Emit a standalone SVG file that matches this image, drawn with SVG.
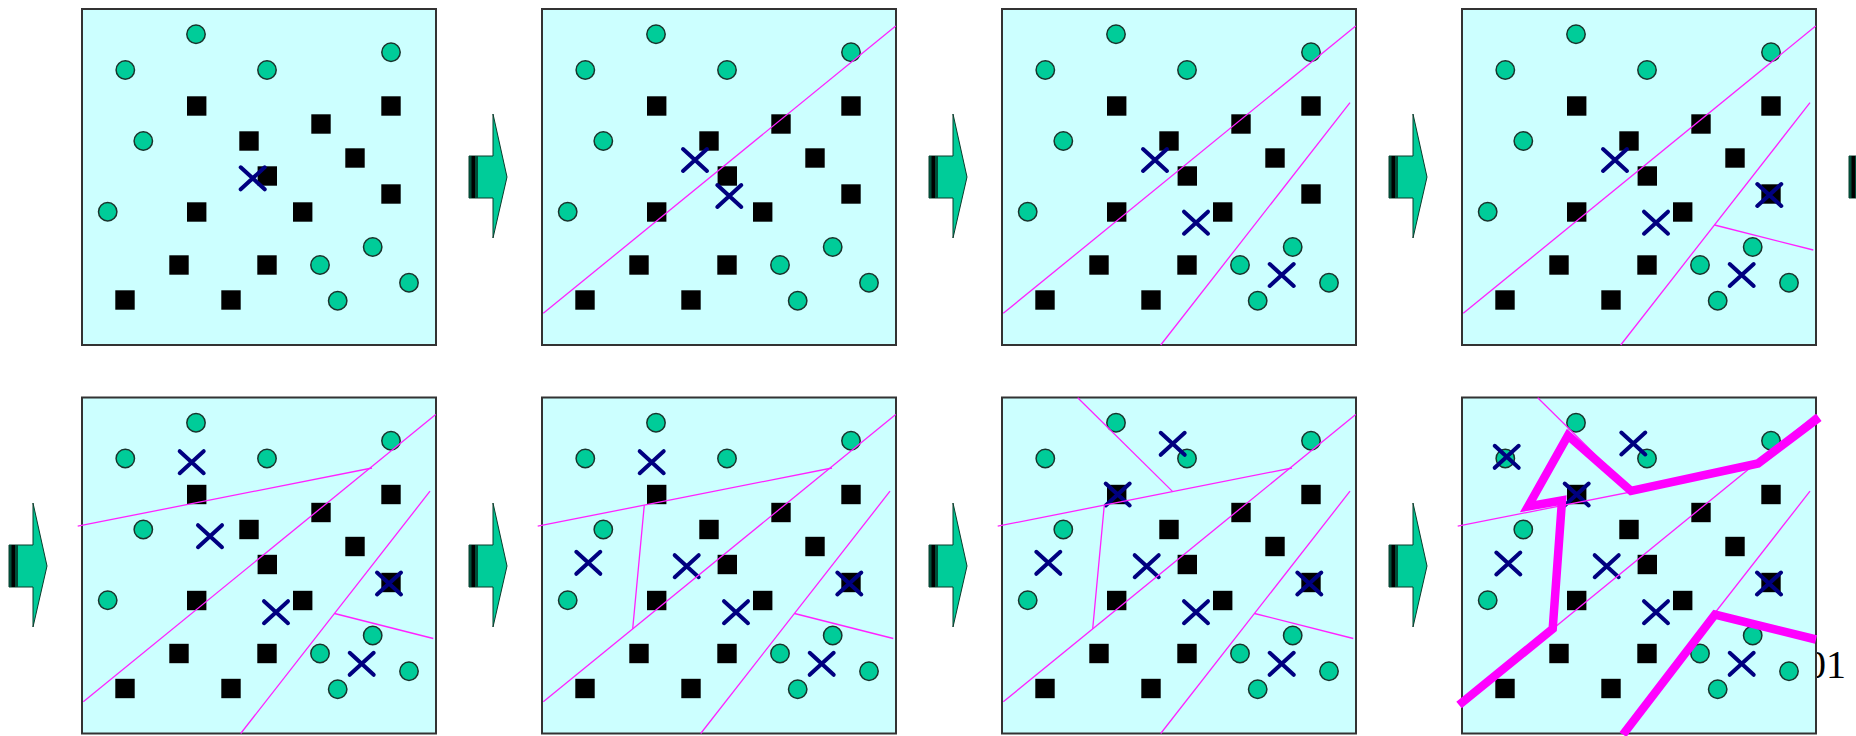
<svg xmlns="http://www.w3.org/2000/svg" xmlns:xlink="http://www.w3.org/1999/xlink" width="1856" height="736" viewBox="0 0 1856 736">
<style>
.box{fill:#CCFFFF;stroke:#333;stroke-width:2}
.c{fill:#00CC99;stroke:#1a332c;stroke-width:1.5}
.s{fill:#000}
.x{stroke:#000080;stroke-width:4;fill:none;stroke-linecap:round}
.t{stroke:#FF22FF;stroke-width:1.3;fill:none}
.k{stroke:#FF00FF;stroke-width:8.5;fill:none;stroke-linejoin:miter;stroke-linecap:butt}
.arr{fill:#00CC99;stroke:#0b3b2b;stroke-width:1}
.lbl{font-family:"Liberation Serif","Times New Roman",serif;font-size:40px;fill:#000}
</style>
<defs>
<rect id="sq" class="s" x="-9.7" y="-9.7" width="19.4" height="19.4"/>
<circle id="ci" class="c" r="9.2"/>
<path id="xm" class="x" d="M-12,-11L12,11M-12,11L12,-11"/>
<g id="base">
<rect class="box" x="0" y="0" width="354" height="336"/>
<use href="#ci" x="114" y="25.3"/>
<use href="#ci" x="309" y="43.3"/>
<use href="#ci" x="43.3" y="61"/>
<use href="#ci" x="185" y="61"/>
<use href="#ci" x="61.3" y="132"/>
<use href="#ci" x="25.7" y="202.7"/>
<use href="#ci" x="290.7" y="238"/>
<use href="#ci" x="238" y="256"/>
<use href="#ci" x="327" y="273.7"/>
<use href="#ci" x="255.7" y="291.7"/>
<use href="#sq" x="114.7" y="97"/>
<use href="#sq" x="309" y="97"/>
<use href="#sq" x="239" y="115"/>
<use href="#sq" x="167" y="132"/>
<use href="#sq" x="273" y="149"/>
<use href="#sq" x="185.3" y="167"/>
<use href="#sq" x="309" y="185"/>
<use href="#sq" x="114.7" y="203"/>
<use href="#sq" x="220.7" y="203"/>
<use href="#sq" x="97" y="256"/>
<use href="#sq" x="185" y="256"/>
<use href="#sq" x="43" y="291"/>
<use href="#sq" x="149" y="291"/>
</g>
<path id="lA" class="t" d="M1.3,304.3L353.7,17"/>
<path id="lB" class="t" d="M348,93.7L158.7,336"/>
<path id="lC" class="t" d="M252.5,216L351.3,241"/>
<path id="lD" class="t" d="M-4.3,128.7L290,70.5"/>
<path id="lE" class="t" d="M102.3,107.6L90.7,231.4"/>
<path id="lF" class="t" d="M75.7,0.3L170.7,94.1"/>
<g id="arrow">
<path class="arr" d="M0,156H24V114L38,177L24,238V198H0Z"/>
<rect x="0" y="156" width="9" height="42" fill="#004d38"/>
<rect x="2.5" y="156" width="3.5" height="42" fill="#000"/>
</g>
</defs>

<text class="lbl" x="1846" y="678" text-anchor="end">01</text>

<g id="connectors">
<use href="#arrow" x="469" y="0"/>
<use href="#arrow" x="929" y="0"/>
<use href="#arrow" x="1389" y="0"/>
<use href="#arrow" x="1849" y="0"/>
<use href="#arrow" x="9" y="389"/>
<use href="#arrow" x="469" y="389"/>
<use href="#arrow" x="929" y="389"/>
<use href="#arrow" x="1389" y="389"/>
</g>

<g id="panel1" transform="translate(82,9)">
<use href="#base"/>
<use href="#xm" x="170.7" y="169.3"/>
</g>

<g id="panel2" transform="translate(542,9)">
<use href="#base"/>
<use href="#xm" x="153" y="151"/>
<use href="#xm" x="187.3" y="187"/>
<use href="#lA"/>
</g>

<g id="panel3" transform="translate(1002,9)">
<use href="#base"/>
<use href="#xm" x="153" y="151"/>
<use href="#xm" x="194" y="213.7"/>
<use href="#xm" x="279.7" y="266"/>
<use href="#lA"/><use href="#lB"/>
</g>

<g id="panel4" transform="translate(1462,9)">
<use href="#base"/>
<use href="#xm" x="153" y="151"/>
<use href="#xm" x="194" y="213.7"/>
<use href="#xm" x="279.7" y="266"/>
<use href="#xm" x="307.3" y="186"/>
<use href="#lA"/><use href="#lB"/><use href="#lC"/>
</g>

<g id="panel5" transform="translate(82,397.5)">
<use href="#base"/>
<use href="#xm" x="109.7" y="64.7"/>
<use href="#xm" x="128" y="138.7"/>
<use href="#xm" x="194" y="214.7"/>
<use href="#xm" x="279.7" y="266.3"/>
<use href="#xm" x="307" y="186"/>
<use href="#lA"/><use href="#lB"/><use href="#lC"/><use href="#lD"/>
</g>

<g id="panel6" transform="translate(542,397.5)">
<use href="#base"/>
<use href="#xm" x="109.7" y="64.7"/>
<use href="#xm" x="46.3" y="165.3"/>
<use href="#xm" x="144.7" y="168.7"/>
<use href="#xm" x="194" y="214.7"/>
<use href="#xm" x="279.7" y="266.3"/>
<use href="#xm" x="307.3" y="186"/>
<use href="#lA"/><use href="#lB"/><use href="#lC"/><use href="#lD"/><use href="#lE"/>
</g>

<g id="panel7" transform="translate(1002,397.5)">
<use href="#base"/>
<use href="#xm" x="170.7" y="46.3"/>
<use href="#xm" x="115.7" y="97"/>
<use href="#xm" x="46.3" y="165.3"/>
<use href="#xm" x="144.7" y="168.7"/>
<use href="#xm" x="194" y="214.7"/>
<use href="#xm" x="279.7" y="266.3"/>
<use href="#xm" x="307.3" y="186"/>
<use href="#lA"/><use href="#lB"/><use href="#lC"/><use href="#lD"/><use href="#lE"/><use href="#lF"/>
</g>

<g id="panel8" transform="translate(1462,397.5)">
<use href="#base"/>
<use href="#xm" x="44.7" y="59.3"/>
<use href="#xm" x="171.3" y="46"/>
<use href="#xm" x="114.7" y="97"/>
<use href="#xm" x="46.3" y="166"/>
<use href="#xm" x="144.7" y="168.7"/>
<use href="#xm" x="194" y="214.7"/>
<use href="#xm" x="279.7" y="266.3"/>
<use href="#xm" x="307" y="186"/>
<use href="#lA"/><use href="#lB"/><use href="#lC"/><use href="#lD"/><use href="#lE"/><use href="#lF"/>
<path class="k" d="M-3,307.5L90.7,231.4L100,103L66,109L106,38L169,93.5L296,66L357,20"/>
<path class="k" d="M161,337L253,217L354,242"/>
</g>
</svg>
